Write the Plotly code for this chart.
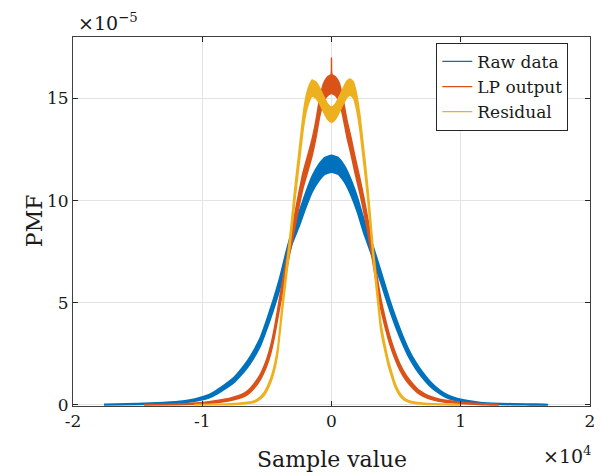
import math
import plotly.graph_objects as go

# ---- data (x: sample value, y: PMF in units of 1e-5) ----
raw_x = [-17600, -15000, -13000, -11500, -10500, -9500, -8800, -8000, -7500, -7000, -6500, -6000,
         -5500, -5000, -4500, -4000, -3500, -3000, -2500, -2000, -1500, -1000, -500, 0,
         500, 1000, 1500, 2000, 2500, 3000, 3500, 4000, 4500, 5000, 5500, 6000, 6500, 7000,
         7500, 8000, 8800, 9500, 10500, 11500, 13000, 15000, 16700]
raw_y = [0.02, 0.05, 0.09, 0.15, 0.25, 0.42, 0.66, 1.0, 1.25, 1.6, 2.0, 2.5,
         3.1, 3.95, 4.9, 5.95, 7.2, 8.3, 9.1, 10.0, 10.8, 11.35, 11.7, 11.8,
         11.7, 11.3, 10.65, 9.8, 8.75, 7.85, 6.9, 5.9, 4.9, 4.0, 3.2, 2.5, 1.95, 1.5,
         1.12, 0.82, 0.47, 0.3, 0.17, 0.09, 0.05, 0.03, 0.02]

lp_x = [-14500, -12000, -10500, -9500, -8500, -7800, -7000, -6500, -6000, -5500, -5000, -4700,
        -4400, -4000, -3700, -3300, -2900, -2500, -2200, -1800, -1500, -1200, -900, -600,
        -300, -40, 0, 40, 300, 600, 900, 1200, 1500, 1800, 2200, 2500, 2800, 3100, 3500, 3800,
        4200, 4500, 4900, 5300, 5800, 6300, 6800, 7500, 8300, 9300, 10500, 11700, 12900]
lp_y = [0.01, 0.03, 0.07, 0.12, 0.2, 0.28, 0.43, 0.6, 0.92, 1.38, 2.1, 2.72,
        3.6, 5.04, 6.1, 7.5, 8.8, 10.1, 11.0, 11.9, 12.6, 13.5, 14.6, 15.3,
        15.6, 15.7, 16.5, 15.7, 15.6, 15.3, 14.5, 13.5, 12.7, 11.8, 10.7, 9.8, 8.8, 7.7, 6.1, 5.0,
        3.9, 3.2, 2.45, 1.85, 1.3, 0.92, 0.62, 0.38, 0.24, 0.15, 0.08, 0.04, 0.01]

res_x = [-10600, -9000, -7500, -6500, -6000, -5600, -5200, -4900, -4600, -4350, -4150, -4000,
         -3800, -3600, -3400, -3200, -3000, -2800, -2600, -2400, -2200, -2000, -1800, -1500,
         -1200, -900, -600, -300, 0, 300, 600, 900, 1200, 1450, 1700, 1950, 2200, 2400,
         2600, 2800, 3000, 3200, 3400, 3600, 3800, 4000, 4200, 4400, 4650, 4900, 5200,
         5600, 6000, 6500, 7500, 8500, 10000]
res_y = [0.01, 0.02, 0.05, 0.1, 0.16, 0.3, 0.55, 0.9, 1.4, 2.0, 2.72, 3.6,
         4.8, 5.9, 7.0, 8.1, 9.3, 10.5, 11.6, 12.7, 13.8, 14.6, 15.1, 15.5,
         15.4, 15.1, 14.7, 14.35, 14.2, 14.35, 14.7, 15.1, 15.45, 15.55, 15.4, 14.8, 13.8, 12.7,
         11.6, 10.4, 9.0, 7.6, 6.3, 5.1, 3.9, 3.2, 2.6, 2.05, 1.5, 1.0, 0.6,
         0.3, 0.17, 0.1, 0.05, 0.03, 0.01]

series_names = ["Raw data", "LP output", "Residual"]
series_colors = ["#0072BD", "#D95319", "#EDB120"]
noise_scale = [0.12, 0.115, 0.1]   # visual thickness of the sampling-noise band

x_tick_vals = [-20000, -10000, 0, 10000, 20000]
x_tick_text = ["-2", "-1", "0", "1", "2"]
y_tick_vals = [0, 5, 10, 15]
y_tick_text = ["0", "5", "10", "15"]

FONT = "DejaVu Serif"
TXT = "#1a1a1a"

fig = go.Figure()
data = [(raw_x, raw_y), (lp_x, lp_y), (res_x, res_y)]
for (xs, ys), name, col, k in zip(data, series_names, series_colors, noise_scale):
    ss = [k * math.sqrt(y) for y in ys]
    upper = [y + s for y, s in zip(ys, ss)]
    lower = [max(y - s, 0.0) for y, s in zip(ys, ss)]
    fig.add_trace(go.Scatter(
        x=list(xs) + list(xs)[::-1],
        y=upper + lower[::-1],
        mode="lines", fill="toself", fillcolor=col,
        line=dict(color=col, width=1.5, shape="spline", smoothing=0.5),
        showlegend=False, hoverinfo="skip"))

for name, col in zip(series_names, series_colors):
    fig.add_trace(go.Scatter(x=[None], y=[None], mode="lines", name=name,
                             line=dict(color=col, width=1.2)))

axis_common = dict(
    showline=True, linecolor="#404040", linewidth=1, mirror="ticks",
    ticks="inside", ticklen=5, tickcolor="#262626", tickwidth=1,
    showgrid=True, gridcolor="#e3e3e3", gridwidth=1, zeroline=False,
    tickfont=dict(family=FONT, size=17, color=TXT),
)

fig.update_xaxes(range=[-20000, 20000], tickvals=x_tick_vals, ticktext=x_tick_text, **axis_common)
fig.update_yaxes(range=[-0.05, 18], tickvals=y_tick_vals, ticktext=y_tick_text, **axis_common)

# page body has an 8px margin, so the figure is sized/offset to compensate
fig.update_layout(
    width=594, height=465,
    margin=dict(l=65, r=7, t=29, b=67),
    paper_bgcolor="white", plot_bgcolor="white",
    font=dict(family=FONT, color=TXT),
    legend=dict(x=0.958, xanchor="right", y=0.984, yanchor="top",
                bgcolor="white", bordercolor="#262626", borderwidth=1,
                font=dict(family=FONT, size=17, color=TXT),
                itemwidth=30, tracegroupgap=0),
    annotations=[
        dict(text="Sample value", xref="paper", yref="paper", x=0.5, y=-0.144,
             xanchor="center", yanchor="middle", showarrow=False,
             font=dict(family=FONT, size=22, color=TXT)),
        dict(text="PMF", xref="paper", yref="paper", x=-0.074, y=0.503,
             xanchor="center", yanchor="middle", textangle=-90, showarrow=False,
             font=dict(family=FONT, size=22, color=TXT)),
        dict(text="×10<sup>−5</sup>", xref="paper", yref="paper", x=0.005, y=1.004,
             xanchor="left", yanchor="bottom", showarrow=False,
             font=dict(family=FONT, size=19, color=TXT)),
        dict(text="×10<sup>4</sup>", xref="paper", yref="paper", x=1.008, y=-0.133,
             xanchor="right", yanchor="middle", showarrow=False,
             font=dict(family=FONT, size=19, color=TXT)),
    ],
)

fig.write_html("out.html")
